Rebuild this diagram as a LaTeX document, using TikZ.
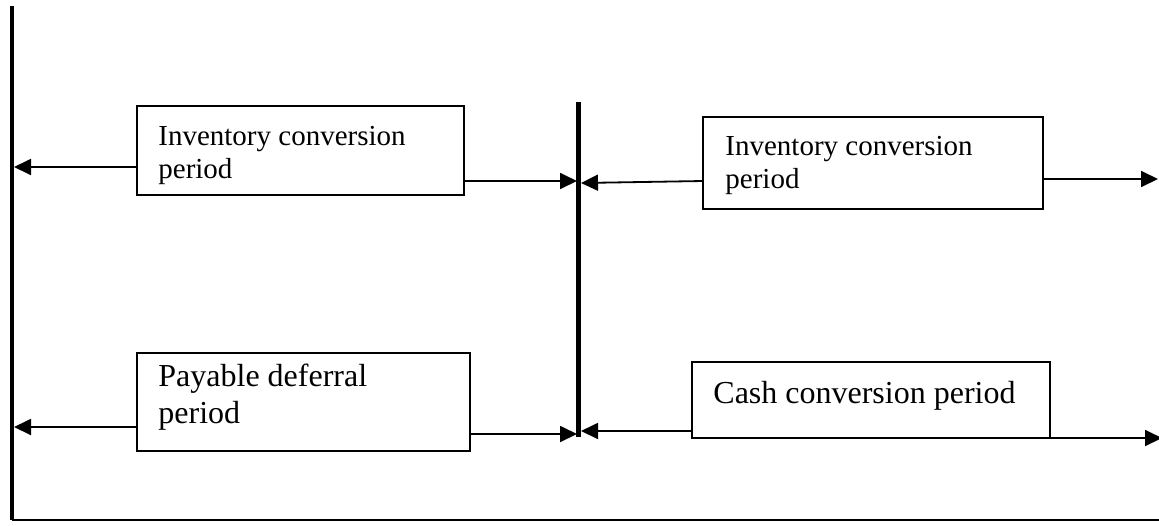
\documentclass[tikz,border=0pt]{standalone}
\usepackage{fontspec}
\setmainfont{Liberation Serif}
\usetikzlibrary{arrows.meta}
\begin{document}
\begin{tikzpicture}[x=0.5pt,y=-0.5pt,
  box/.style={draw, line width=1pt, inner sep=0pt, outer sep=0pt, anchor=north west, rectangle},
  conn/.style={line width=0.9pt, -{Triangle[length=8.5pt,width=8pt]}},
  small/.style={font=\fontsize{14.5}{17}\selectfont, anchor=base west, inner sep=0pt},
  big/.style={font=\fontsize{16}{18.5}\selectfont, anchor=base west, inner sep=0pt},
  axisline/.style={line width=2.2pt},
  baseline/.style={line width=1pt}]
\useasboundingbox (0,0) rectangle (1159,525);
% frame lines
\coordinate (Ltop) at (12,6);
\coordinate (Lbot) at (12,520);
\coordinate (Rbot) at (1159,520);
\coordinate (Mtop) at (578.5,102);
\coordinate (Mbot) at (578.5,437);
\draw[axisline] (Ltop) -- (Lbot);
\draw[baseline] (Lbot) -- (Rbot);
\draw[axisline] (Mtop) -- (Mbot);
% boxes
\node[box, minimum width=163.5pt, minimum height=44.5pt] (b1) at (137,106) {};
\node[box, minimum width=170pt, minimum height=46pt] (b2) at (703,117) {};
\node[box, minimum width=166.5pt, minimum height=49pt] (b3) at (137,353) {};
\node[box, minimum width=179pt, minimum height=38pt] (b4) at (692,362) {};
% texts
\node[small] (t1a) at (158,145) {Inventory conversion};
\node[small] (t1b) at (158,178) {period};
\node[small] (t2a) at (725,155) {Inventory conversion};
\node[small] (t2b) at (725,188) {period};
\node[big] (t3a) at (158,386) {Payable deferral};
\node[big] (t3b) at (158,423) {period};
\node[big] (t4) at (713,403) {Cash conversion period};
% arrow ends
\coordinate (a1) at (14,167);
\coordinate (a2) at (577,181);
\coordinate (a3) at (581,183);
\coordinate (a4) at (1158,179);
\coordinate (a5) at (14,427);
\coordinate (a6) at (577,434);
\coordinate (a7) at (581,431);
\coordinate (a8) at (1162,438);
% connectors
\draw[conn] (b1.west |- a1) -- (a1);
\draw[conn] (b1.east |- a2) -- (a2);
\draw[conn] (b2.west |- a2) -- (a3);
\draw[conn] (b2.east |- a4) -- (a4);
\draw[conn] (b3.west |- a5) -- (a5);
\draw[conn] (b3.east |- a6) -- (a6);
\draw[conn] (b4.west |- a7) -- (a7);
\draw[conn] (b4.south east) -- (a8);
\end{tikzpicture}
\end{document}
